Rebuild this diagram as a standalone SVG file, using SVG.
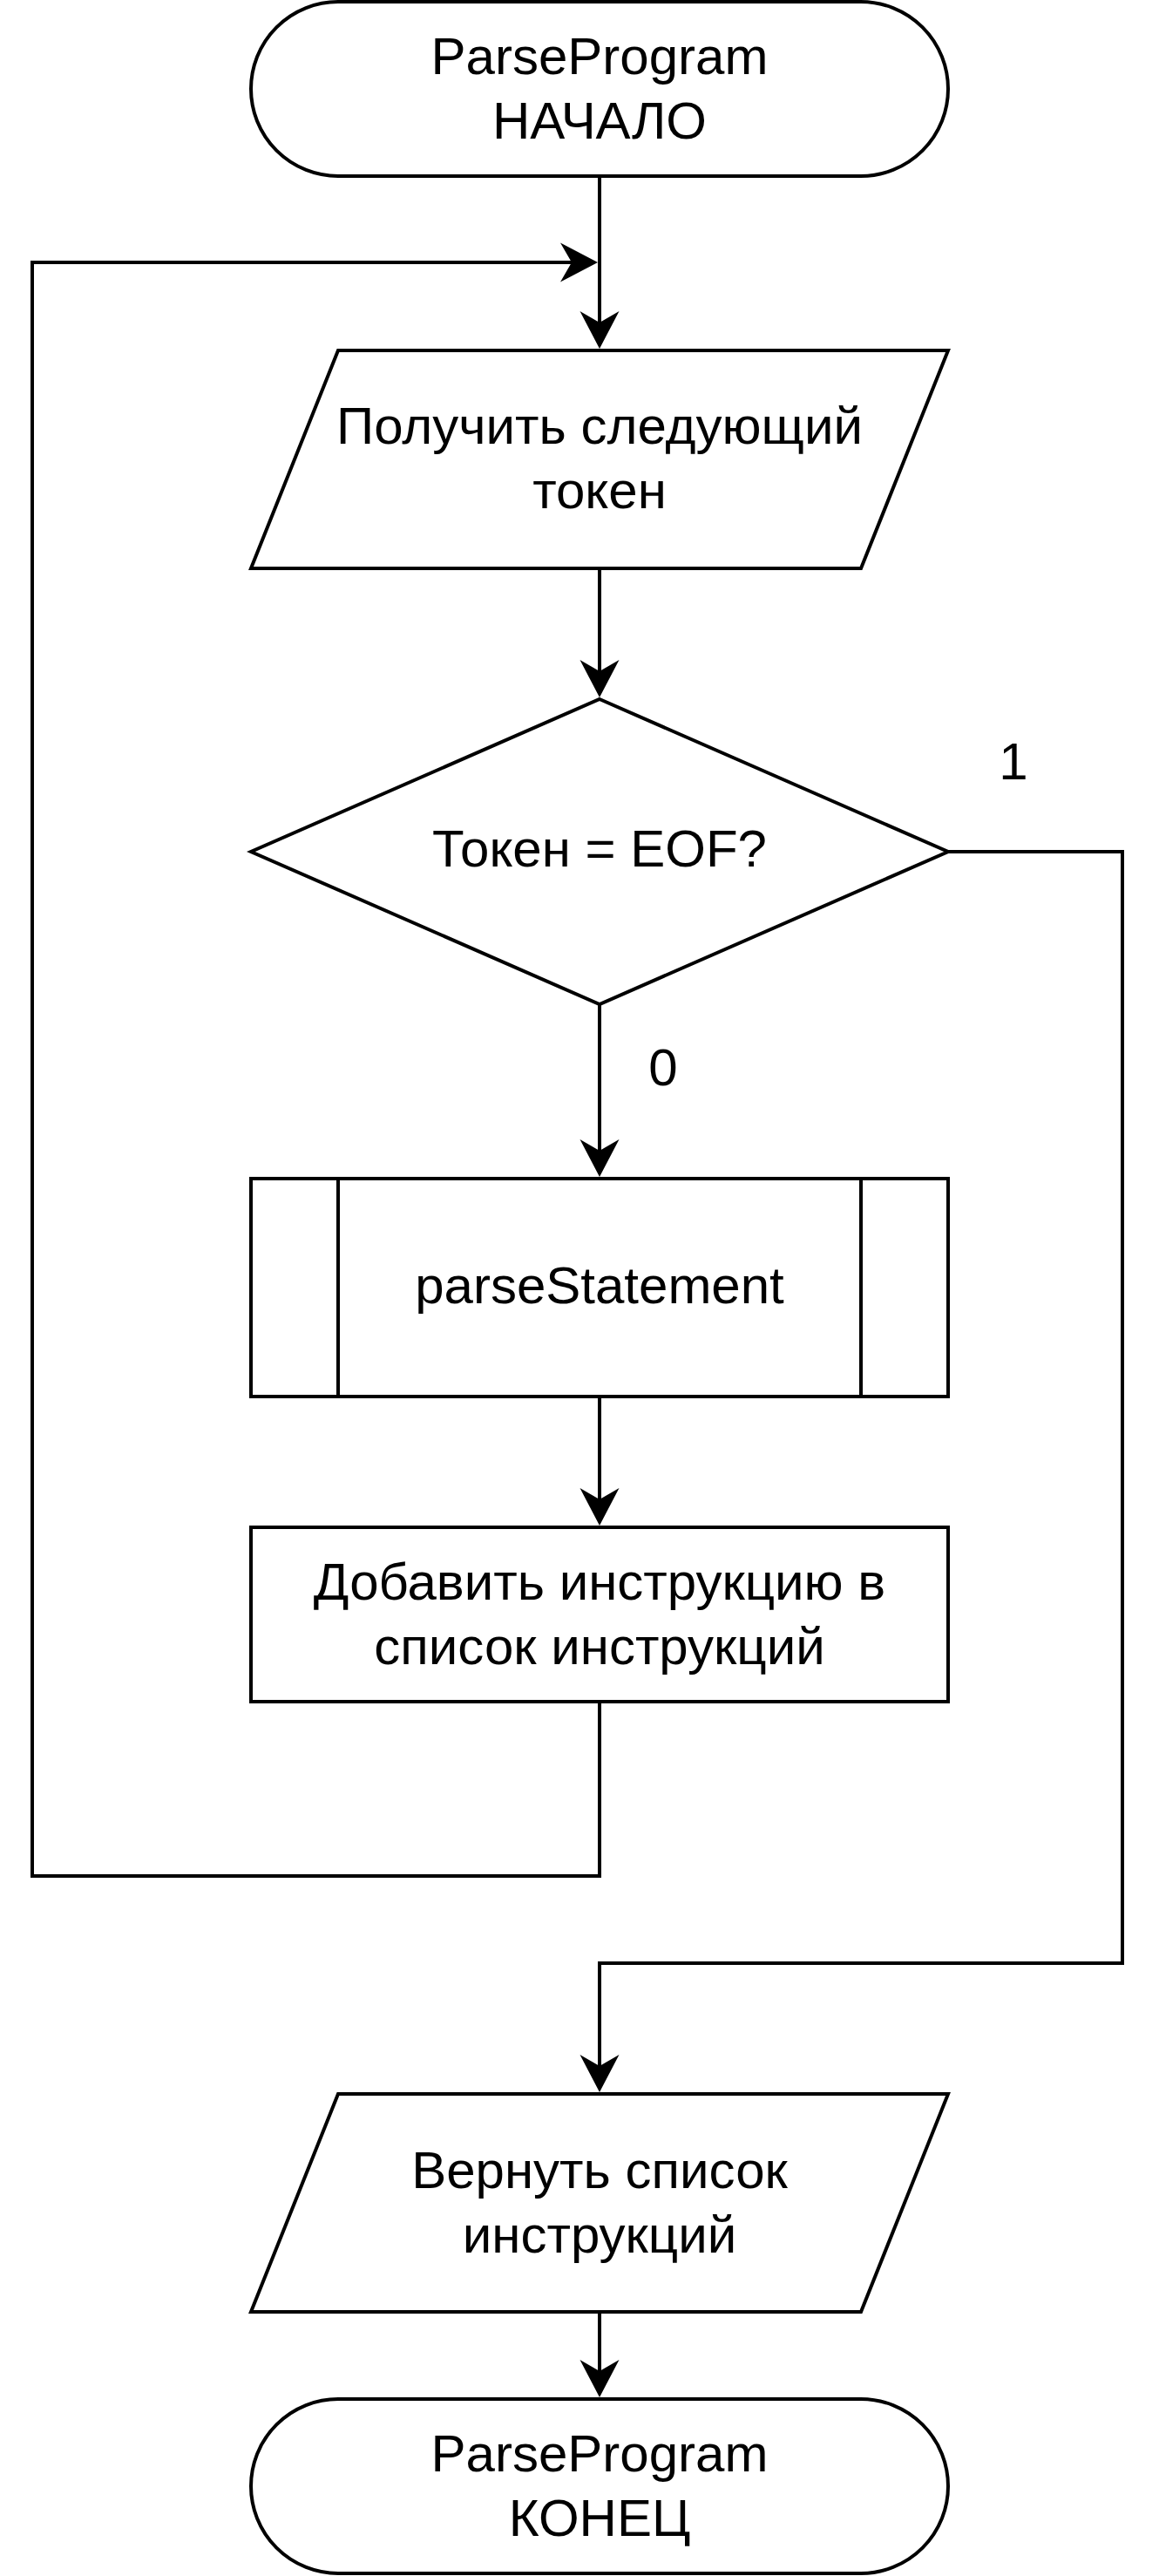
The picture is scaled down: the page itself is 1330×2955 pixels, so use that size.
<svg xmlns="http://www.w3.org/2000/svg" width="1330" height="2955" viewBox="0 0 1330 2955">
<style>
.shape{fill:#ffffff;stroke:#000000;stroke-width:4;}
.edge{fill:none;stroke:#000000;stroke-width:4;marker-end:url(#arrow);}
.plain{fill:none;stroke:#000000;stroke-width:4;}
text{font-family:"Liberation Sans",Arial,Helvetica,sans-serif;font-size:60px;fill:#000000;text-anchor:middle;}
</style>
<defs>
<marker id="arrow" markerUnits="userSpaceOnUse" viewBox="-15 -25 50 50" markerWidth="50" markerHeight="50" refX="0" refY="0" orient="auto">
<path d="M30,0 L-13,-22.5 L0,0 L-13,22.5 Z" fill="#000000" stroke="none"/>
</marker>
</defs>
<rect width="1330" height="2955" fill="#ffffff"/>
<g id="connectors">
<path class="edge" d="M688,202 V370"/>
<path class="edge" d="M688,1952 V2152 H37 V301 H656"/>
<path class="edge" d="M688,652 V770"/>
<path class="edge" d="M688,1152 V1320"/>
<path class="edge" d="M688,1602 V1720"/>
<path class="edge" d="M1088,977 H1288 V2252 H688 V2370"/>
<path class="edge" d="M688,2652 V2720"/>
<text x="1163" y="894">1</text>
<text x="761" y="1245">0</text>
</g>
<g id="start">
<rect class="shape" x="288" y="2" width="800" height="200" rx="100" ry="100"/>
<text x="688" y="85">ParseProgram</text>
<text x="688" y="159">НАЧАЛО</text>
</g>
<g id="get-token">
<polygon class="shape" points="388,402 1088,402 988,652 288,652"/>
<text x="688" y="509">Получить следующий</text>
<text x="688" y="583">токен</text>
</g>
<g id="is-eof">
<polygon class="shape" points="688,802 1088,977 688,1152 288,977"/>
<text x="688" y="994">Токен = EOF?</text>
</g>
<g id="parse-statement">
<rect class="shape" x="288" y="1352" width="800" height="250"/>
<line class="plain" x1="388" y1="1352" x2="388" y2="1602"/>
<line class="plain" x1="988" y1="1352" x2="988" y2="1602"/>
<text x="688" y="1495">parseStatement</text>
</g>
<g id="add-instruction">
<rect class="shape" x="288" y="1752" width="800" height="200"/>
<text x="688" y="1835">Добавить инструкцию в</text>
<text x="688" y="1909">список инструкций</text>
</g>
<g id="return-list">
<polygon class="shape" points="388,2402 1088,2402 988,2652 288,2652"/>
<text x="688" y="2510">Вернуть список</text>
<text x="688" y="2584">инструкций</text>
</g>
<g id="end">
<rect class="shape" x="288" y="2752" width="800" height="200" rx="100" ry="100"/>
<text x="688" y="2835">ParseProgram</text>
<text x="688" y="2909">КОНЕЦ</text>
</g>
</svg>
